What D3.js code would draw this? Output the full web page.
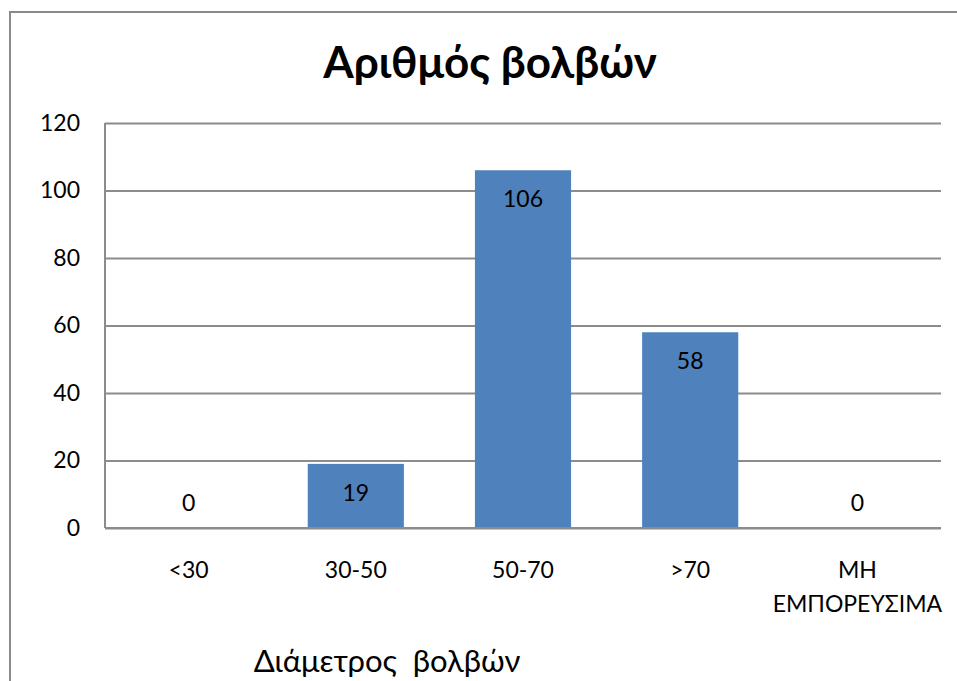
<!DOCTYPE html>
<html>
<head>
<meta charset="utf-8">
<script src="https://cdn.jsdelivr.net/npm/d3@7"></script>
<style>
  html, body { margin: 0; padding: 0; background: #ffffff; }
  svg { display: block; }
  text { font-family: Lato, "Noto Sans", sans-serif; fill: #000; }
</style>
</head>
<body>
<svg id="chart" width="957" height="681"></svg>
<script>
// Bulb counts per diameter class
const categories = ["<30", "30-50", "50-70", ">70", "ΜΗ ΕΜΠΟΡΕΥΣΙΜΑ"];
const categoryLines = [["<30"], ["30-50"], ["50-70"], [">70"], ["ΜΗ", "ΕΜΠΟΡΕΥΣΙΜΑ"]];
const counts = [0, 19, 106, 58, 0];
const yTicks = [0, 20, 40, 60, 80, 100, 120];
const chartTitle = "Αριθμός βολβών";
const xAxisTitle = "Διάμετρος  βολβών";

const svg = d3.select("#chart");
const W = 957, H = 681;

// Outer chart frame (runs off the right and bottom edges)
svg.append("rect")
  .attr("x", 10).attr("y", 12)
  .attr("width", W).attr("height", H)
  .attr("fill", "#fff")
  .attr("stroke", "#8a8a8a")
  .attr("stroke-width", 2);

const plot = { left: 105, right: 941, top: 123, bottom: 528 };

const x = d3.scaleBand()
  .domain(categories)
  .range([plot.left, plot.right])
  .paddingInner(0.425)
  .paddingOuter(0.2125);

const y = d3.scaleLinear()
  .domain([0, 120])
  .range([plot.bottom, plot.top]);

// Horizontal gridlines and value axis labels
const yAxis = d3.axisLeft(y)
  .tickValues(yTicks)
  .tickSize(-(plot.right - plot.left))
  .tickPadding(25);

const gy = svg.append("g")
  .attr("transform", `translate(${plot.left},0)`)
  .call(yAxis);
gy.select(".domain").remove();
gy.selectAll(".tick line")
  .attr("stroke", "#8c8c8c")
  .attr("stroke-width", 2);
gy.selectAll(".tick text")
  .attr("font-size", 23)
  .attr("fill", "#000")
  .style("font-family", "Lato, 'Noto Sans', sans-serif");

// Left axis line
svg.append("line")
  .attr("x1", plot.left).attr("x2", plot.left)
  .attr("y1", plot.top).attr("y2", plot.bottom)
  .attr("stroke", "#8c8c8c")
  .attr("stroke-width", 2);

// Bars
svg.append("g")
  .selectAll("rect")
  .data(counts)
  .join("rect")
  .attr("x", (d, i) => x(categories[i]))
  .attr("y", d => y(d))
  .attr("width", x.bandwidth())
  .attr("height", d => y(0) - y(d))
  .attr("fill", "#4f81bd");

// Redraw the baseline over bar bottoms
svg.append("line")
  .attr("x1", plot.left).attr("x2", plot.right)
  .attr("y1", y(0)).attr("y2", y(0))
  .attr("stroke", "#8c8c8c")
  .attr("stroke-width", 2);

// Value labels: inside the bar top, or just above the axis for zero
svg.append("g")
  .selectAll("text")
  .data(counts)
  .join("text")
  .attr("x", (d, i) => x(categories[i]) + x.bandwidth() / 2)
  .attr("y", d => d > 0 ? y(d) + 37 : y(0) - 17)
  .attr("text-anchor", "middle")
  .attr("font-size", 23)
  .text(d => d);

// Category labels (multi-line where needed)
const xl = svg.append("g")
  .selectAll("text")
  .data(categoryLines)
  .join("text")
  .attr("x", (d, i) => x(categories[i]) + x.bandwidth() / 2)
  .attr("y", 578)
  .attr("text-anchor", "middle")
  .attr("font-size", 23);
xl.selectAll("tspan")
  .data(d => d)
  .join("tspan")
  .attr("x", function () { return d3.select(this.parentNode).attr("x"); })
  .attr("dy", (d, i) => i === 0 ? 0 : 34)
  .text(d => d);

// Chart title
svg.append("text")
  .attr("x", 490)
  .attr("y", 78)
  .attr("text-anchor", "middle")
  .attr("font-size", 44)
  .attr("font-weight", "bold")
  .text(chartTitle);

// Category axis title
svg.append("text")
  .attr("x", 387)
  .attr("y", 672)
  .attr("text-anchor", "middle")
  .attr("font-size", 31)
  .attr("xml:space", "preserve")
  .style("white-space", "pre")
  .text(xAxisTitle);
</script>
</body>
</html>
